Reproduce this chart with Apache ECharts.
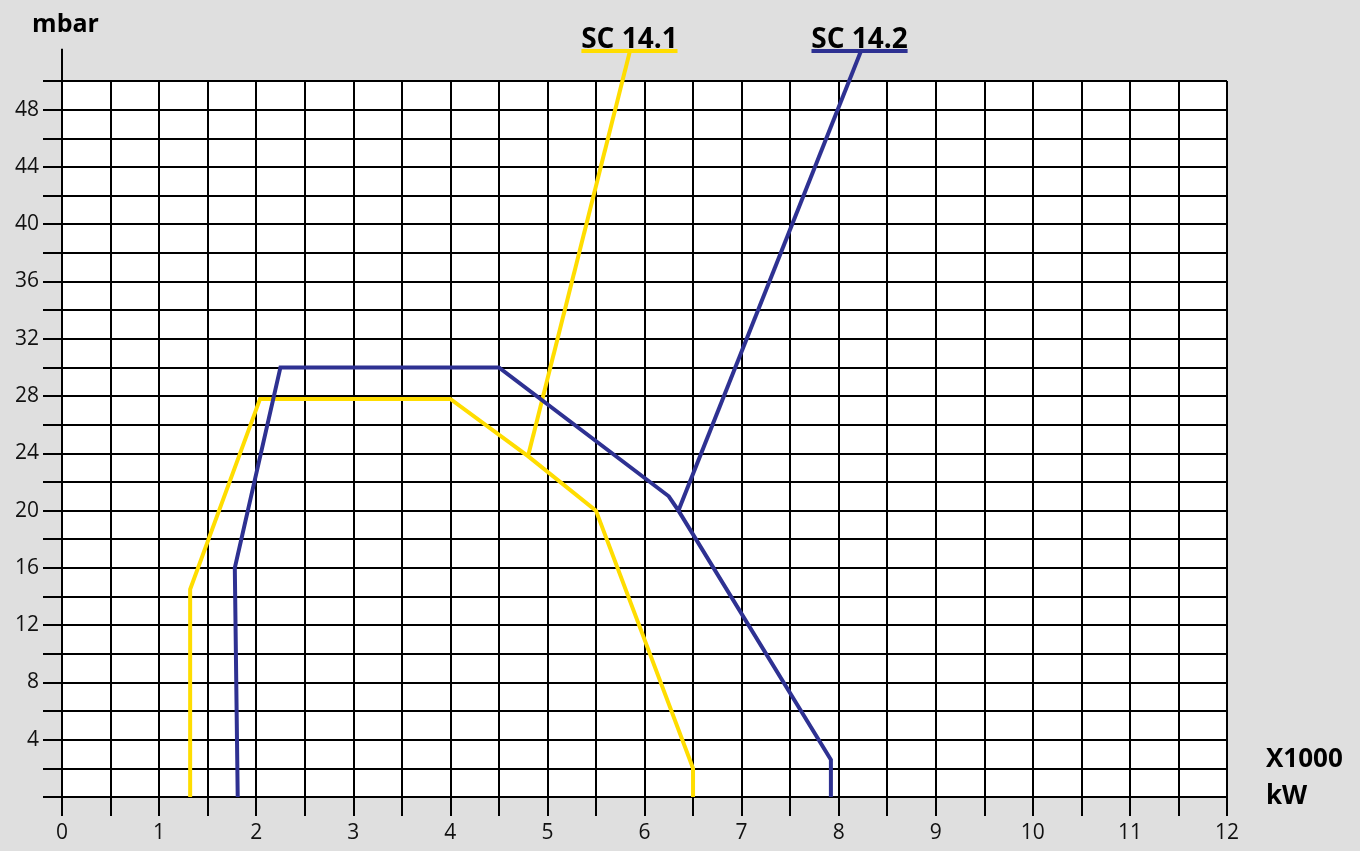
<!DOCTYPE html>
<html>
<head>
<meta charset="utf-8">
<script src="https://cdn.jsdelivr.net/npm/echarts@6/dist/echarts.min.js"></script>
<style>
html,body{margin:0;padding:0;background:#dfdfdf;}
#chart{width:1360px;height:851px;}
</style>
</head>
<body>
<div id="chart"></div>
<script>
// ---- data (x in kW x1000, y in mbar) ----
var xTicks = [0,1,2,3,4,5,6,7,8,9,10,11,12];
var yTicks = [4,8,12,16,20,24,28,32,36,40,44,48];
var sc141Curve = [[1.32,0],[1.32,14.5],[2.04,27.8],[4.0,27.8],[4.8,23.8],[5.5,20.0],[6.5,2.0],[6.5,0]];
var sc141Lead  = [[4.8,23.8],[5.85,52.1]];
var sc141Under = [[5.35,52.1],[6.34,52.1]];
var sc142Curve = [[1.81,0],[1.78,16.0],[2.25,30.0],[4.5,30.0],[6.25,21.0],[6.35,20.0],[7.92,2.6],[7.92,0]];
var sc142Lead  = [[6.35,20.0],[8.23,52.1]];
var sc142Under = [[7.72,52.1],[8.71,52.1]];
var sc141Label = [[5.845,52.1]];
var sc142Label = [[8.215,52.1]];
var yAxisExt = [[0,50],[0,52.26]];
var xAxisExt = [[12,0],[12.32,0]];

var YELLOW = '#FFDD00';
var BLUE = '#2E3192';
var FONT = 'Open Sans';

var chart = echarts.init(document.getElementById('chart'));

function lineSeries(name, data, color, width) {
  return {
    name: name, type: 'line', data: data, clip: false, symbol: 'none',
    silent: true, animation: false,
    lineStyle: {color: color, width: width, join: 'miter'}
  };
}
function labelSeries(name, data, text) {
  return {
    name: name, type: 'scatter', data: data, clip: false, symbolSize: 0,
    silent: true, animation: false,
    itemStyle: {opacity: 1},
    label: {show: true, position: 'top', distance: -4, formatter: text,
      fontFamily: FONT, fontWeight: 'bold', fontSize: 28, color: '#000', lineHeight: 30}
  };
}

chart.setOption({
  backgroundColor: '#dfdfdf',
  animation: false,
  grid: {left: 62, right: 133, top: 81, bottom: 54, containLabel: false, outerBoundsMode: 'none',
    show: true, backgroundColor: '#ffffff', borderWidth: 0},
  xAxis: {
    type: 'value', min: 0, max: 12, interval: 0.5,
    name: 'X1000\nkW\n', nameLocation: 'end', nameGap: 39,
    nameTextStyle: {fontFamily: FONT, fontWeight: 'bold', fontSize: 26, color: '#000',
      lineHeight: 37, align: 'left', verticalAlign: 'middle'},
    axisLine: {show: true, lineStyle: {color: '#000', width: 2}},
    axisTick: {show: true, length: 19, lineStyle: {color: '#000', width: 2}},
    axisLabel: {
      interval: 1, margin: 26, fontFamily: FONT, fontSize: 21, color: '#111',
      formatter: function (v) { return xTicks.indexOf(v) >= 0 ? String(v) : ''; }
    },
    splitLine: {show: true, lineStyle: {color: '#000', width: 2}}
  },
  yAxis: {
    type: 'value', min: 0, max: 50, interval: 2,
    name: 'mbar', nameLocation: 'end', nameGap: 44,
    nameTextStyle: {fontFamily: FONT, fontWeight: 'bold', fontSize: 25, color: '#000', padding: [0, 0, 0, 7]},
    axisLine: {show: true, lineStyle: {color: '#000', width: 2}},
    axisTick: {show: true, length: 19, lineStyle: {color: '#000', width: 2}},
    axisLabel: {
      interval: 1, margin: 23, fontFamily: FONT, fontSize: 21, color: '#111',
      formatter: function (v) { return yTicks.indexOf(v) >= 0 ? String(v) : ''; }
    },
    splitLine: {show: true, lineStyle: {color: '#000', width: 2}}
  },
  series: [
    lineSeries('yAxisExt', yAxisExt, '#000', 2),
    lineSeries('xAxisExt', xAxisExt, '#000', 2),
    lineSeries('SC 14.1', sc141Curve, YELLOW, 4),
    lineSeries('SC 14.1 lead', sc141Lead, YELLOW, 4),
    lineSeries('SC 14.1 underline', sc141Under, YELLOW, 4),
    lineSeries('SC 14.2', sc142Curve, BLUE, 4),
    lineSeries('SC 14.2 lead', sc142Lead, BLUE, 4),
    lineSeries('SC 14.2 underline', sc142Under, BLUE, 4),
    labelSeries('SC 14.1 label', sc141Label, 'SC 14.1'),
    labelSeries('SC 14.2 label', sc142Label, 'SC 14.2')
  ]
});
</script>
</body>
</html>
